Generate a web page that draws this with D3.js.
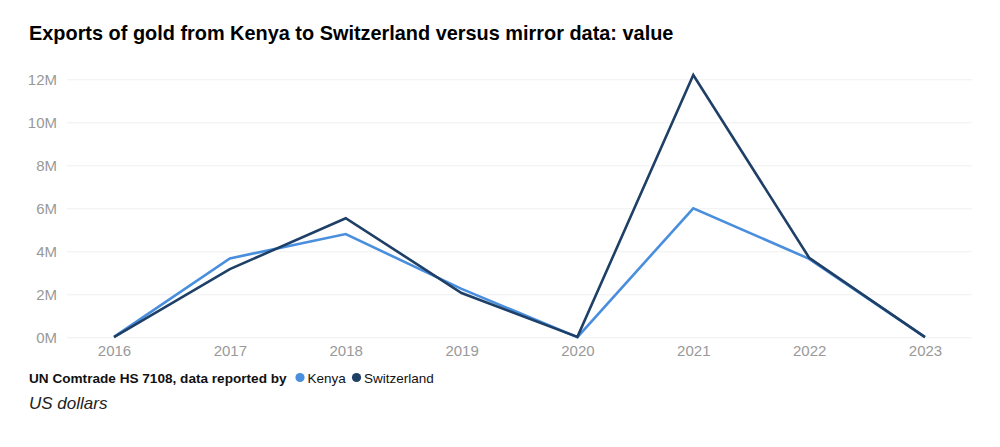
<!DOCTYPE html>
<html><head><meta charset="utf-8">
<script src="https://cdn.jsdelivr.net/npm/d3@7"></script>
<style>body{margin:0;background:#fff;font-family:"Liberation Sans",Arial,sans-serif;}</style>
</head><body><svg id="c" width="1000" height="447"></svg>
<script>
const years = [2016, 2017, 2018, 2019, 2020, 2021, 2022, 2023];
const kenya = [0.02e6, 3.67e6, 4.8e6, 2.25e6, 0.01e6, 6.0e6, 3.65e6, 0.01e6];
const switzerland = [0.01e6, 3.17e6, 5.54e6, 2.06e6, 0.02e6, 12.2e6, 3.7e6, 0.01e6];
const yTicks = [0, 2e6, 4e6, 6e6, 8e6, 10e6, 12e6];
const seriesNames = ["Kenya", "Switzerland"];
const colors = ["#4a8ede", "#1e3f66"];

const svg = d3.select("#c");
const x = d3.scalePoint().domain(years).range([114, 925]);
const y = d3.scaleLinear().domain([0, 12e6]).range([337.3, 79.3]);

svg.append("text").attr("x", 29).attr("y", 40).attr("font-size", 19.9).attr("font-weight", "bold")
  .attr("fill", "#000").text("Exports of gold from Kenya to Switzerland versus mirror data: value");

const yAxis = svg.append("g").attr("transform", "translate(67,0)")
  .call(d3.axisLeft(y).tickValues(yTicks).tickSize(-905).tickFormat(d => (d / 1e6) + "M"));
yAxis.select(".domain").remove();
yAxis.selectAll("line").attr("stroke", "#f0f0f0").attr("stroke-width", 1);
yAxis.selectAll("text").attr("x", -10).attr("fill", "#999").attr("font-size", 15)
  .attr("font-family", "Liberation Sans, Arial, sans-serif");

const xAxis = svg.append("g").attr("transform", "translate(0,337.3)")
  .call(d3.axisBottom(x).tickSize(0).tickPadding(8.5));
xAxis.select(".domain").remove();
xAxis.selectAll("text").attr("fill", "#999").attr("font-size", 15)
  .attr("font-family", "Liberation Sans, Arial, sans-serif");

const line = d3.line().x((d, i) => x(years[i])).y(d => y(d));
[kenya, switzerland].forEach((s, k) => {
  svg.append("path").datum(s).attr("d", line).attr("fill", "none")
    .attr("stroke", colors[k]).attr("stroke-width", 2.6).attr("stroke-linejoin", "miter");
});

const leg = svg.append("g");
leg.append("text").attr("x", 29).attr("y", 382.5).attr("font-size", 13.6).attr("font-weight", "bold")
  .attr("fill", "#111").text("UN Comtrade HS 7108, data reported by");
const legX = [300, 356.5];
seriesNames.forEach((n, i) => {
  leg.append("circle").attr("cx", legX[i]).attr("cy", 377.5).attr("r", 4.6).attr("fill", colors[i]);
  leg.append("text").attr("x", legX[i] + 7.5).attr("y", 382.5).attr("font-size", 13.5).attr("fill", "#111").text(n);
});
svg.append("text").attr("x", 29).attr("y", 408.5).attr("font-size", 17).attr("font-style", "italic")
  .attr("fill", "#222").text("US dollars");
</script></body></html>
